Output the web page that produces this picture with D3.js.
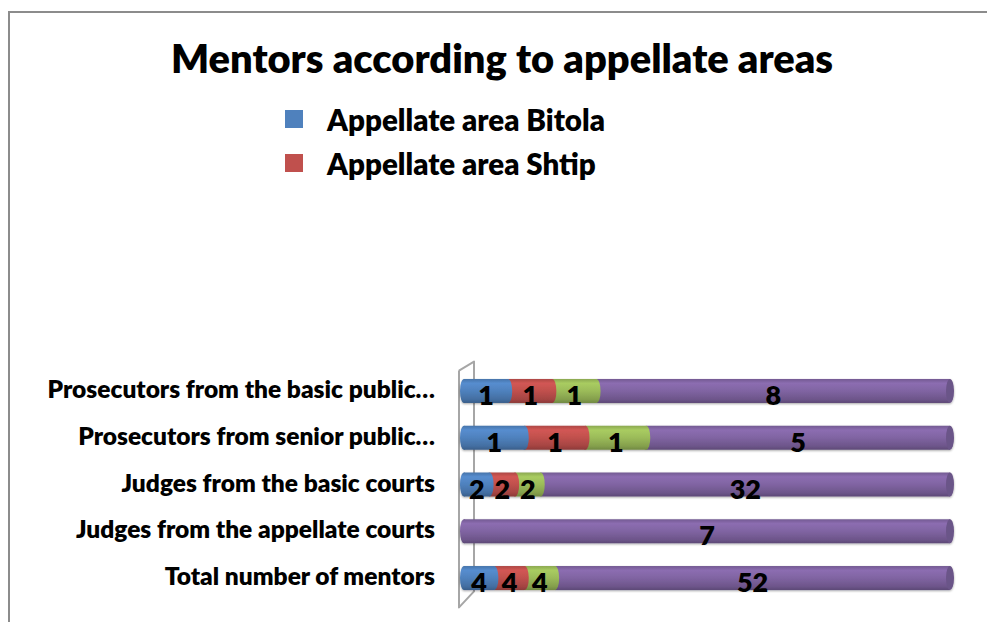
<!DOCTYPE html>
<html>
<head>
<meta charset="utf-8">
<script src="https://cdn.jsdelivr.net/npm/d3@7"></script>
<style>
  body { margin: 0; background: #fff; }
  svg { display: block; font-family: Lato, "Open Sans", sans-serif; font-weight: 800; }
</style>
</head>
<body>
<div id="chart"></div>
<script>
// Data, top row first as in the picture
const categories = [
  "Prosecutors from the basic public…",
  "Prosecutors from senior public…",
  "Judges from the basic courts",
  "Judges from the appellate courts",
  "Total number of mentors"
];
const seriesNames = ["Appellate area Bitola", "Appellate area Shtip", "Appellate area Gostivar", "Appellate area Skopje"];
const bitola = [1, 1, 2, 0, 4];
const shtip = [1, 1, 2, 0, 4];
const gostivar = [1, 1, 2, 0, 4];
const skopje = [8, 5, 32, 7, 52];
const colors = ["#4f81bd", "#c0504d", "#9bbb59", "#8064a2"];
// the legend in the picture only shows the first two entries
const legendShown = 2;

const width = 987, height = 622;

let rows = categories.map((c, i) => ({
  cat: c,
  s0: bitola[i], s1: shtip[i], s2: gostivar[i], s3: skopje[i]
}));
let keys = ["s0", "s1", "s2", "s3"];
let stacked = d3.stack().keys(keys).offset(d3.stackOffsetExpand)(rows);

let svg = d3.select("#chart").append("svg")
  .attr("width", width)
  .attr("height", height);

let defs = svg.append("defs");

// Cylinder shading for each colour
colors.forEach((c, i) => {
  let base = d3.color(c);
  let g = defs.append("linearGradient")
    .attr("id", "cyl" + i)
    .attr("x1", 0).attr("y1", 0).attr("x2", 0).attr("y2", 1);
  g.append("stop").attr("offset", "0%").attr("stop-color", base.darker(0.3));
  g.append("stop").attr("offset", "18%").attr("stop-color", base.brighter(0.25));
  g.append("stop").attr("offset", "50%").attr("stop-color", base);
  g.append("stop").attr("offset", "85%").attr("stop-color", base.darker(0.45));
  g.append("stop").attr("offset", "100%").attr("stop-color", base.darker(0.9));
});

defs.append("filter").attr("id", "shadow")
  .attr("x", "-5%").attr("y", "-30%").attr("width", "110%").attr("height", "160%")
  .append("feDropShadow")
  .attr("dx", 0).attr("dy", 1).attr("stdDeviation", 1.2)
  .attr("flood-color", "#000").attr("flood-opacity", 0.35);

// Frame
svg.append("rect")
  .attr("x", 9).attr("y", 12)
  .attr("width", 1100).attr("height", 700)
  .attr("fill", "none")
  .attr("stroke", "#8c8c8c")
  .attr("stroke-width", 2);

// Title
svg.append("text")
  .attr("x", 502).attr("y", 73)
  .attr("text-anchor", "middle")
  .attr("font-size", 39.8)
  .text("Mentors according to appellate areas");

// Legend
let legend = svg.append("g");
seriesNames.slice(0, legendShown).forEach((name, i) => {
  let ly = 119 + i * 44;
  legend.append("rect")
    .attr("x", 285).attr("y", ly - 9)
    .attr("width", 18).attr("height", 18)
    .attr("fill", colors[i]);
  legend.append("text")
    .attr("x", 327).attr("y", ly + 4)
    .attr("dominant-baseline", "middle")
    .attr("font-size", 29.5)
    .text(name);
});

// Scales
let x = d3.scaleLinear().domain([0, 1]).range([464, 950]);
let y = d3.scaleBand().domain(categories)
  .range([367.6, 601.4])
  .paddingInner(0.487)
  .paddingOuter(0.2435);
let bh = y.bandwidth();
let rx = 4;

// 3D wall behind the category axis
let wx = x(0);
let [yTop, yBot] = y.range();
svg.append("path")
  .attr("d", d3.line()([
    [wx - 5, yTop + 3], [wx + 10, yTop - 6], [wx + 10, yBot - 10], [wx - 5, yBot + 6], [wx - 5, yTop + 3]
  ]))
  .attr("fill", "none")
  .attr("stroke", "#a6a6a6")
  .attr("stroke-width", 2)
  .attr("stroke-linejoin", "round");

// Category labels
svg.append("g").selectAll("text")
  .data(categories)
  .join("text")
  .attr("x", 435)
  .attr("y", d => y(d) + bh / 2 + 7)
  .attr("text-anchor", "end")
  .attr("font-size", 24.5)
  .text(d => d);

// Bars: draw right to left so each cap bulges over the next segment
let bars = svg.append("g");
rows.forEach((r, ri) => {
  let g = bars.append("g").attr("filter", "url(#shadow)");
  let cy = y(r.cat) + bh / 2;
  for (let si = keys.length - 1; si >= 0; si--) {
    let seg = stacked[si][ri];
    if (seg[1] - seg[0] <= 0) continue;
    let x0 = x(seg[0]), x1 = x(seg[1]);
    g.append("rect")
      .attr("x", x0).attr("y", y(r.cat))
      .attr("width", x1 - x0).attr("height", bh)
      .attr("fill", "url(#cyl" + si + ")");
    g.append("ellipse")
      .attr("cx", x1).attr("cy", cy)
      .attr("rx", rx).attr("ry", bh / 2)
      .attr("fill", si === keys.length - 1 ? d3.color(colors[si]).darker(0.5) : "url(#cyl" + si + ")");
  }
  // rounded start on the left
  let first = keys.findIndex((k, si) => stacked[si][ri][1] - stacked[si][ri][0] > 0);
  g.append("ellipse")
    .attr("cx", x(0)).attr("cy", cy)
    .attr("rx", rx).attr("ry", bh / 2)
    .attr("fill", "url(#cyl" + first + ")");
});

// Value labels
let labels = svg.append("g");
stacked.forEach((layer, si) => {
  layer.forEach((seg, ri) => {
    let v = seg.data[keys[si]];
    if (!v) return;
    labels.append("text")
      .attr("x", x((seg[0] + seg[1]) / 2))
      .attr("y", y(seg.data.cat) + bh / 2 + 14)
      .attr("text-anchor", "middle")
      .attr("font-size", 27)
      .text(v);
  });
});
</script>
</body>
</html>
